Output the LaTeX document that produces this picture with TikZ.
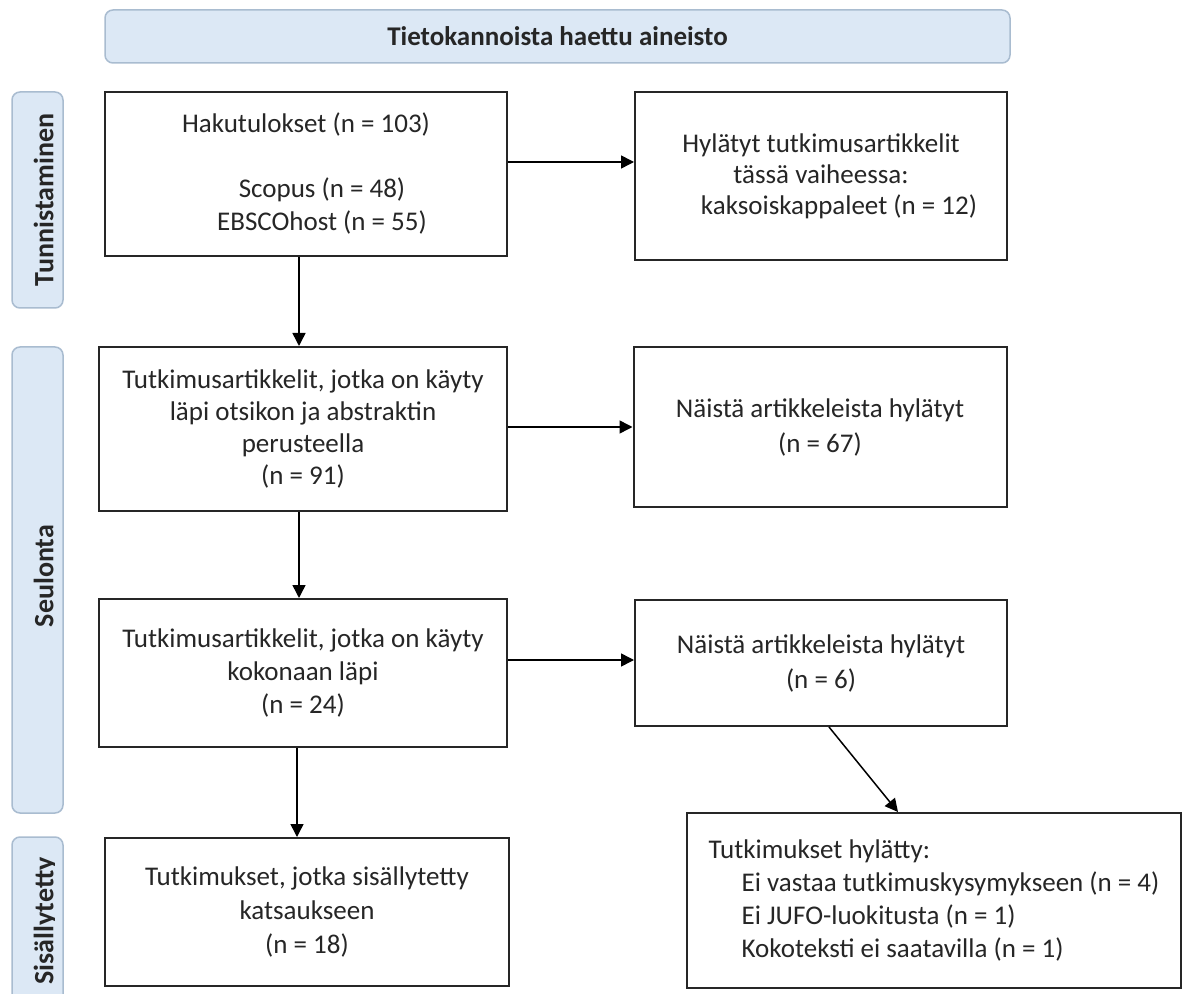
\documentclass[tikz,border=0pt]{standalone}
\usepackage{fontspec}
\setmainfont{Carlito}
\usetikzlibrary{arrows.meta}
\definecolor{lblfill}{HTML}{DCE8F5}
\definecolor{lbldraw}{HTML}{A9BCD0}
\definecolor{txt}{HTML}{262626}
\definecolor{edge}{HTML}{262626}
\begin{document}
\begin{tikzpicture}[x=0.5pt,y=-0.5pt,
  box/.style={draw=edge, line width=1pt, fill=white, text=txt, align=center, inner sep=0pt, font=\fontsize{13.5}{16.5}\selectfont},
  lbl/.style={draw=lbldraw, fill=lblfill, line width=0.75pt, rounded corners=4pt, inner sep=0pt},
  lbltext/.style={font=\bfseries\fontsize{14}{16}\selectfont, text=txt, rotate=90, anchor=base, inner sep=0pt},
  arr/.style={draw=black, line width=0.75pt, -{Triangle[length=6.5pt,width=6.5pt]}}]
\useasboundingbox (0,0) rectangle (1183,994);
\fill[white] (0,0) rectangle (1183,994);
% banner
\node[lbl, minimum width=452.5pt, minimum height=26.5pt, font=\bfseries\fontsize{13.5}{16}\selectfont, text=txt] (top) at (557.5,36.5) {Tietokannoista haettu aineisto};
% side labels
\node[lbl, minimum width=25.5pt, minimum height=108pt] (L1) at (37.5,200) {};
\node[lbltext] (L1t) at (53.5,200) {Tunnistaminen};
\node[lbl, minimum width=25.5pt, minimum height=233pt] (L2) at (37.5,580) {};
\node[lbltext] (L2t) at (53.5,576) {Seulonta};
\node[lbl, minimum width=25.5pt, minimum height=86.5pt] (L3) at (37.5,923.5) {};
\begin{scope}
\clip (0,0) rectangle (54,994);
\node[lbltext] (L3t) at (53.5,921) {Sisällytetty};
\end{scope}
% boxes
\node[box, minimum width=201pt, minimum height=82pt] (A) at (306,174) {Hakutulokset (n = 103)\\[16pt]\hspace*{16pt}Scopus (n = 48)\\\hspace*{16pt}EBSCOhost (n = 55)};
\node[box, minimum width=186pt, minimum height=84pt, font=\fontsize{13.5}{15.5}\selectfont] (B) at (821,176) {Hylätyt tutkimusartikkelit\\tässä vaiheessa:\\\hspace*{18pt}kaksoiskappaleet (n = 12)};
\node[box, minimum width=204pt, minimum height=82pt, font=\fontsize{13.5}{16}\selectfont] (C) at (303,429) {Tutkimusartikkelit, jotka on käyty\\läpi otsikon ja abstraktin\\perusteella\\(n = 91)};
\node[box, minimum width=186.5pt, minimum height=80pt, font=\fontsize{13.5}{17.5}\selectfont] (D) at (820,427) {Näistä artikkeleista hylätyt\\(n = 67)};
\node[box, minimum width=204pt, minimum height=74pt] (E) at (303,673) {Tutkimusartikkelit, jotka on käyty\\kokonaan läpi\\(n = 24)};
\node[box, minimum width=186pt, minimum height=63pt, font=\fontsize{13.5}{17.5}\selectfont] (F) at (821,663) {Näistä artikkeleista hylätyt\\(n = 6)};
\node[box, minimum width=202pt, minimum height=74pt, font=\fontsize{13.5}{17}\selectfont] (G) at (307,912) {Tutkimukset, jotka sisällytetty\\katsaukseen\\(n = 18)};
\node[box, align=left, minimum width=247pt, minimum height=87.5pt] (H) at (934,900.5) {Tutkimukset hylätty:\\\hspace*{16.5pt}Ei vastaa tutkimuskysymykseen (n = 4)\\\hspace*{16.5pt}Ei JUFO-luokitusta (n = 1)\\\hspace*{16.5pt}Kokoteksti ei saatavilla (n = 1)};
% connectors
\draw[arr] ([yshift=6pt]A.east) -- ([yshift=6pt]A.east -| B.west);
\draw[arr] ([xshift=-3.5pt]A.south) -- ([xshift=-3.5pt]A.south |- C.north);
\draw[arr] ([yshift=1pt]C.east) -- ([yshift=1pt]C.east -| D.west);
\draw[arr] ([xshift=-2pt]C.south) -- ([xshift=-2pt]C.south |- E.north);
\draw[arr] ([yshift=6.5pt]E.east) -- ([yshift=6.5pt]E.east -| F.west);
\draw[arr] ([xshift=-3pt]E.south) -- ([xshift=-3pt]E.south |- G.north);
\draw[arr] ([xshift=4pt]F.south) -- ([xshift=-18pt]H.north);
\end{tikzpicture}
\end{document}
